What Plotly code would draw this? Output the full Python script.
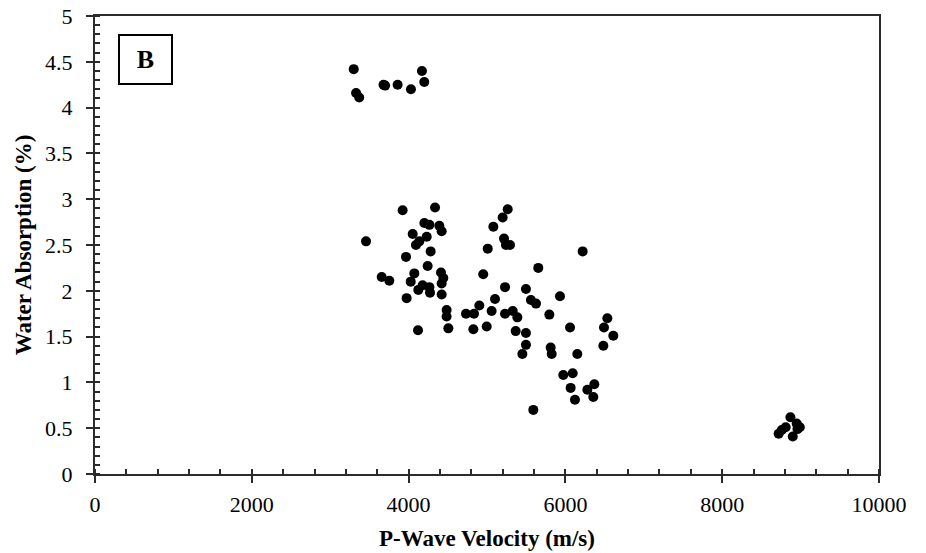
import plotly.graph_objects as go

# P-wave velocity (m/s) and water absorption (%) for each sample
velocity = [
    3300, 3330, 3370, 3680, 3700, 3860, 4030, 4170, 4200,
    3924, 4337, 5264, 5200, 5081, 4201, 4265, 4392, 4422, 4052,
    4231, 4137, 4094, 3457, 5217, 5242, 5293, 5009, 4281, 3967,
    4243, 3657, 3754, 4073, 4027, 4413, 4443, 4422, 4952, 4179,
    4124, 4265, 4273, 4422, 3975, 5230, 5497, 5102, 4902, 5059,
    4485, 4485, 4732, 4834, 5230, 5328, 5387, 4120,
    6220, 5654, 5560, 5625, 5931, 4507, 4826, 4996, 5795, 5366,
    5497, 5497, 5451, 5812, 5825, 6059, 6152, 6535, 6492, 6611,
    6484, 5973, 6093, 6067, 6122, 6280, 6369, 6356, 5591,
    8720, 8760, 8810, 8870, 8900, 8950, 8990, 8960,
]
absorption = [
    4.42, 4.16, 4.11, 4.25, 4.24, 4.25, 4.20, 4.40, 4.28,
    2.88, 2.91, 2.89, 2.80, 2.70, 2.74, 2.72, 2.71, 2.65, 2.62,
    2.59, 2.54, 2.50, 2.54, 2.57, 2.50, 2.50, 2.46, 2.43, 2.37,
    2.27, 2.15, 2.11, 2.19, 2.10, 2.20, 2.14, 2.08, 2.18, 2.06,
    2.01, 2.04, 1.98, 1.96, 1.92, 2.04, 2.02, 1.91, 1.84, 1.78,
    1.79, 1.72, 1.75, 1.75, 1.75, 1.78, 1.71, 1.57,
    2.43, 2.25, 1.90, 1.86, 1.94, 1.59, 1.58, 1.61, 1.74, 1.56,
    1.54, 1.41, 1.31, 1.38, 1.31, 1.60, 1.31, 1.70, 1.60, 1.51,
    1.40, 1.08, 1.10, 0.94, 0.81, 0.92, 0.98, 0.84, 0.70,
    0.44, 0.48, 0.51, 0.62, 0.41, 0.55, 0.51, 0.49,
]

x_range = [0, 10000]
y_range = [0, 5]
x_title = "P-Wave Velocity (m/s)"
y_title = "Water Absorption (%)"
panel_label = "B"

FONT = "Liberation Serif, Times New Roman, serif"
AX = "#2b2b2b"

fig = go.Figure()
fig.add_trace(go.Scatter(
    x=velocity, y=absorption, mode="markers",
    marker=dict(size=10, color="black", line=dict(width=0)),
    showlegend=False, hoverinfo="x+y",
))
# invisible trace that anchors the overlay axes (inner half of major ticks)
fig.add_trace(go.Scatter(
    x=[x_range[0]], y=[y_range[0]], xaxis="x2", yaxis="y2",
    mode="markers", marker=dict(opacity=0), showlegend=False, hoverinfo="skip",
))

common = dict(
    showgrid=False, zeroline=False, showline=True, linewidth=2,
    linecolor=AX, mirror=True, ticks="outside", ticklen=7, tickwidth=2,
    tickcolor=AX, tickfont=dict(family=FONT, size=22, color="black"),
    exponentformat="none", separatethousands=False, automargin=False,
)

fig.update_layout(
    width=926, height=553,
    margin=dict(l=95, r=47, t=16, b=79),
    paper_bgcolor="white", plot_bgcolor="white",
    font=dict(family=FONT, color="black"),
    xaxis=dict(
        range=x_range, dtick=2000, tick0=0, tickformat="d",
        ticklabelstandoff=3,
        minor=dict(ticks="inside", ticklen=5, tickwidth=2, tickcolor=AX, dtick=400),
        title=dict(text=f"<b>{x_title}</b>", font=dict(family=FONT, size=23), standoff=13),
        **common,
    ),
    yaxis=dict(
        range=y_range, dtick=0.5, tick0=0,
        ticklabelstandoff=9,
        minor=dict(ticks="inside", ticklen=5, tickwidth=2, tickcolor=AX, dtick=0.1),
        title=dict(text=f"<b>{y_title}</b>", font=dict(family=FONT, size=23), standoff=7),
        **common,
    ),
    xaxis2=dict(
        range=x_range, dtick=2000, tick0=0, overlaying="x", anchor="y2",
        showgrid=False, zeroline=False, showline=False, showticklabels=False,
        ticks="inside", ticklen=5, tickwidth=2, tickcolor=AX, side="bottom",
        automargin=False,
    ),
    yaxis2=dict(
        range=y_range, dtick=0.5, tick0=0, overlaying="y", anchor="x2",
        showgrid=False, zeroline=False, showline=False, showticklabels=False,
        ticks="inside", ticklen=5, tickwidth=2, tickcolor=AX, side="left",
        automargin=False,
    ),
)

fig.add_annotation(
    xref="paper", yref="paper", x=0.0644, y=0.905,
    xanchor="center", yanchor="middle",
    text=f"<b>{panel_label}</b>", showarrow=False,
    font=dict(family=FONT, size=26, color="black"),
    width=51, height=47, borderpad=0,
    bordercolor="black", borderwidth=2, bgcolor="white",
)

fig.write_html("out.html")
